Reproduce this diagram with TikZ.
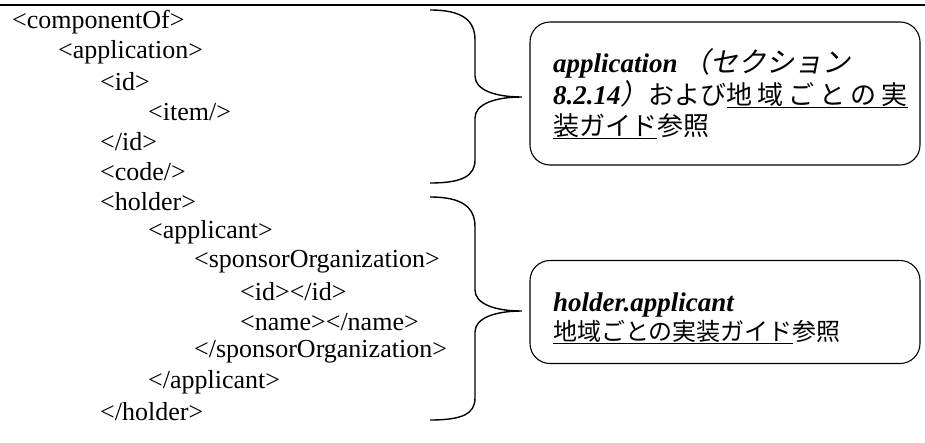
\documentclass[tikz,border=0pt]{standalone}
\usepackage{fontspec}
\setmainfont{Liberation Serif}
\newfontfamily\jp{Noto Sans CJK JP}
\newfontfamily\jpit[FakeSlant=0.2]{Noto Sans CJK JP}
\newcommand\jg{\hspace{5pt}}
\begin{document}
\begin{tikzpicture}[x=1pt,y=-1pt,
  xml/.style={anchor=west, inner sep=0pt, font=\fontsize{26}{30}\selectfont},
  note/.style={anchor=base west, inner sep=0pt, font=\fontsize{27}{30}\selectfont},
  box/.style={draw, line width=1.1pt, rounded corners=20pt, inner sep=0pt},
  brace/.style={line width=1.4pt},
  rule/.style={line width=1.4pt}]
\useasboundingbox (0,0) rectangle (925,442);
\coordinate (tl) at (0,5);
\coordinate (tr) at (925,5);
\draw[rule] (tl) -- (tr);
% XML listing
\node[xml] (l1)  at (12,22)  {\textless componentOf\textgreater};
\node[xml] (l2)  at (58,52)  {\textless application\textgreater};
\node[xml] (l3)  at (100,82) {\textless id\textgreater};
\node[xml] (l4)  at (148,112){\textless item/\textgreater};
\node[xml] (l5)  at (100,142){\textless/id\textgreater};
\node[xml] (l6)  at (100,172){\textless code/\textgreater};
\node[xml] (l7)  at (100,202){\textless holder\textgreater};
\node[xml] (l8)  at (148,232){\textless applicant\textgreater};
\node[xml] (l9)  at (194,262){\textless sponsorOrganization\textgreater};
\node[xml] (l10) at (240,292){\textless id\textgreater\textless/id\textgreater};
\node[xml] (l11) at (240,322){\textless name\textgreater\textless/name\textgreater};
\node[xml] (l12) at (194,352){\textless/sponsorOrganization\textgreater};
\node[xml] (l13) at (148,382){\textless/applicant\textgreater};
\node[xml] (l14) at (100,412){\textless/holder\textgreater};
% braces
\coordinate (t1) at (522,97);
\coordinate (t2) at (522,311);
\draw[brace] (430,10) .. controls (462,10) and (475,20) .. (475,40) -- (475,76)
  .. controls (475,90) and (495,97) .. (t1)
  .. controls (495,97) and (475,104) .. (475,118) -- (475,160)
  .. controls (475,176) and (462,183) .. (430,183);
\draw[brace] (430,197) .. controls (462,197) and (475,207) .. (475,227) -- (475,290)
  .. controls (475,304) and (495,311) .. (t2)
  .. controls (495,311) and (475,318) .. (475,332) -- (475,398)
  .. controls (475,414) and (462,420) .. (430,420);
% boxes
\node[box, minimum width=390, minimum height=143] (box1) at (725,93.5) {};
\node[box, minimum width=390, minimum height=103] (box2) at (725,312) {};
\node[note] (n1a) at (553,72) {\textbf{\textit{application}}\,{\jpit\fontsize{28}{30}\selectfont （セクション}};
\node[note] (n1b) at (553,104) {\textbf{\textit{8.2.14}}{\jpit\fontsize{28}{30}\selectfont ）}{\jp\fontsize{26}{30}\selectfont および\underline{地\jg 域\jg ご\jg と\jg の\jg 実}}};
\node[note] (n1c) at (553,135) {\jp\fontsize{26}{30}\selectfont \underline{装ガイド}参照};
\node[note] (n2a) at (553,311) {\textbf{\textit{holder.applicant}}};
\node[note] (n2b) at (553,340) {\jp\fontsize{24}{30}\selectfont \underline{地域ごとの実装ガイド}参照};
\end{tikzpicture}
\end{document}
